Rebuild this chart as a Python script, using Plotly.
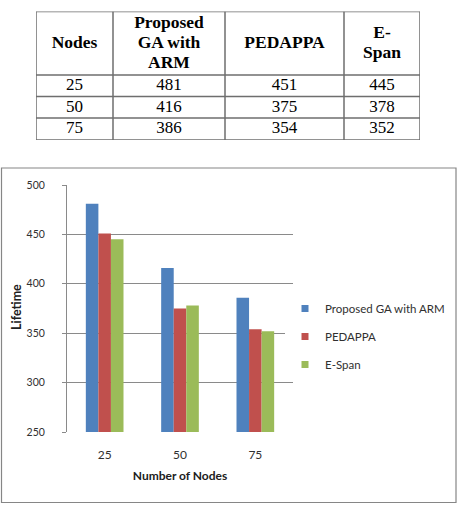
import plotly.graph_objects as go

nodes = ["25", "50", "75"]
proposed = [481, 416, 386]
pedappa = [451, 375, 354]
espan = [445, 378, 352]
series_names = ["Proposed GA with ARM", "PEDAPPA", "E-Span"]
header_labels = ["Nodes", "Proposed<br>GA with<br>ARM", "PEDAPPA", "E-<br>Span"]
colors = ["#4F81BD", "#C0504D", "#9BBB59"]
y_title = "Lifetime"
x_title = "Number of Nodes"

# table geometry (style): column widths and row heights in px
col_w = [77, 112, 119, 76]
row_h = [63.5, 21.5, 21.5, 22]
header_line_gap = 20

W, H = 459, 507
fig = go.Figure()

# ---- table drawn on its own hidden axes ----
xb = [0]
for w in col_w:
    xb.append(xb[-1] + w)
yb = [0]
for h in row_h:
    yb.append(yb[-1] + h)
xc = [(xb[i] + xb[i + 1]) / 2 for i in range(len(col_w))]
yc = [(yb[i] + yb[i + 1]) / 2 for i in range(len(row_h))]

columns = [nodes, [str(v) for v in proposed], [str(v) for v in pedappa], [str(v) for v in espan]]
tfont = dict(family="Liberation Serif", size=17, color="black")
hfont = dict(family="Liberation Serif", size=17.5, color="black")
hx, hy, ht = [], [], []
for ci, lab in enumerate(header_labels):
    lines = lab.split("<br>")
    n = len(lines)
    for li, line in enumerate(lines):
        hx.append(xc[ci])
        hy.append(yc[0] + (li - (n - 1) / 2) * header_line_gap)
        ht.append("<b>" + line + "</b>")
fig.add_trace(go.Scatter(x=hx, y=hy, mode="text", text=ht, textfont=hfont,
                         xaxis="x2", yaxis="y2", showlegend=False, hoverinfo="skip"))
for ci, col in enumerate(columns):
    fig.add_trace(go.Scatter(x=[xc[ci]] * len(col), y=yc[1:], mode="text", text=col,
                             textfont=tfont, xaxis="x2", yaxis="y2",
                             showlegend=False, hoverinfo="skip"))

shapes = []
lc = dict(color="#6e6e6e", width=1.5)
for x in xb:
    shapes.append(dict(type="line", xref="x2", yref="y2", x0=x, x1=x, y0=yb[0], y1=yb[-1], line=lc))
for y in yb:
    shapes.append(dict(type="line", xref="x2", yref="y2", x0=xb[0], x1=xb[-1], y0=y, y1=y, line=lc))

# ---- bar chart ----
for name, vals, c in zip(series_names, [proposed, pedappa, espan], colors):
    fig.add_trace(go.Bar(x=nodes, y=vals, name=name, showlegend=False,
                         marker=dict(color=c, line=dict(width=0))))
for name, c in zip(series_names, colors):
    fig.add_trace(go.Scatter(x=[None], y=[None], mode="markers", name=name, legendgroup=name,
                             marker=dict(color=c, symbol="square", size=7)))

shapes.append(dict(type="rect", xref="paper", yref="paper",
                   x0=1.5 / W, x1=456 / W, y0=1 - 502.5 / H, y1=1 - 168 / H,
                   line=dict(color="#868686", width=1.2)))

fig.update_layout(
    width=W, height=H, margin=dict(l=0, r=0, t=0, b=0, autoexpand=False),
    paper_bgcolor="white", plot_bgcolor="white",
    barmode="group", bargap=0.5, bargroupgap=0,
    font=dict(family="Lato", size=11, color="#303030"),
    xaxis=dict(domain=[67 / W, 293 / W], showgrid=False, showline=False, ticks="",
               ticklabelstandoff=14,
               title=dict(text="<b>" + x_title + "</b>", font=dict(size=12, color="#202020"), standoff=10),
               tickfont=dict(size=12, color="#303030")),
    yaxis=dict(domain=[1 - 432 / H, 1 - 185 / H], range=[250, 500], dtick=50,
               showgrid=True, gridcolor="#8a8a8a", gridwidth=1,
               showline=True, linecolor="#8a8a8a", ticks="outside", ticklen=4, tickcolor="#8a8a8a",
               ticklabelstandoff=15,
               tickfont=dict(size=10.5, color="#303030")),
    xaxis2=dict(domain=[36 / W, 420 / W], range=[0, xb[-1]], visible=False, fixedrange=True),
    yaxis2=dict(domain=[1 - 140 / H, 1 - 11.5 / H], range=[yb[-1], 0], visible=False, fixedrange=True),
    legend=dict(x=285 / W, y=1 - 294 / H, xanchor="left", yanchor="top",
                font=dict(size=11.5, color="#303030"), traceorder="grouped",
                tracegroupgap=9, itemwidth=30),
    annotations=[dict(text="<b>" + y_title + "</b>", xref="paper", yref="paper",
                      x=16 / W, y=1 - 307 / H, xanchor="center", yanchor="middle",
                      textangle=-90, showarrow=False,
                      font=dict(size=12.5, color="#202020"))],
    shapes=shapes,
)

fig.write_html("out.html")
